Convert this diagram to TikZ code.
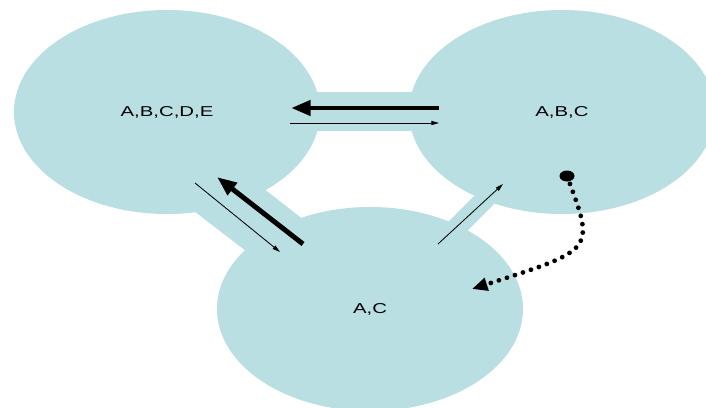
\documentclass[tikz,border=0pt]{standalone}
\usepackage{fontspec}
\setmainfont{Liberation Sans}
\usepackage{graphicx}
\usetikzlibrary{arrows.meta,shapes.geometric}
\definecolor{setblue}{RGB}{185,223,227}
\newcommand{\setlabel}[1]{\scalebox{1.42}[1]{\fontsize{10.2}{12}\selectfont #1}}
\tikzset{
  setnode/.style={ellipse,fill=setblue,inner sep=0pt,minimum width=7.65cm,minimum height=5.1cm},
  bigarrow/.style={line width=3.5pt,-{Triangle[length=14pt,width=10.5pt]}},
  smallarrow/.style={line width=0.6pt,-{Triangle[length=5.5pt,width=3pt]}},
  dotarrow/.style={line width=3.4pt,line cap=round,dash pattern=on 0pt off 6pt,-{Triangle[length=11pt,width=9pt]}}
}
\begin{document}
\begin{tikzpicture}[x=0.025cm,y=-0.025cm]
    \useasboundingbox (0,0) rectangle (706,408);
    \clip (0,0) rectangle (706,408);
    % bands between the sets
    \fill[setblue] (300,92) rectangle (430,131);
    \fill[setblue] (235,166)--(314,228)--(268,268)--(181,201)--cycle;
    \fill[setblue] (436,234)--(489,181)--(507,191)--(454,244)--cycle;
    % the sets
    \node[setnode] (abcde) at (167,112) {\setlabel{A,B,C,D,E}};
    \node[setnode] (abc) at (562,112) {\setlabel{A,B,C}};
    \node[setnode] (ac) at (370,309) {\setlabel{A,C}};
    % arrow ends
    \coordinate (abc-w1) at (439,108);
    \coordinate (abcde-e1) at (291,108);
    \coordinate (abcde-e2) at (290,123);
    \coordinate (abc-w2) at (439,123);
    \coordinate (ac-nw1) at (303,244);
    \coordinate (abcde-se1) at (217,177);
    \coordinate (abcde-se2) at (195,183);
    \coordinate (ac-nw2) at (280,252);
    \coordinate (ac-ne) at (438,244);
    \coordinate (abc-sw) at (503,184);
    \coordinate (start) at (567,176);
    \coordinate (ac-e) at (472,289);
    \draw[bigarrow] (abc-w1)--(abcde-e1);
    \draw[smallarrow] (abcde-e2)--(abc-w2);
    \draw[bigarrow] (ac-nw1)--(abcde-se1);
    \draw[smallarrow] (abcde-se2)--(ac-nw2);
    \draw[smallarrow] (ac-ne)--(abc-sw);
    \fill (start) ellipse [x radius=7.5, y radius=5.5];
    \draw[dotarrow] (start) .. controls (595,251) and (596,249) .. (ac-e);
\end{tikzpicture}
\end{document}
